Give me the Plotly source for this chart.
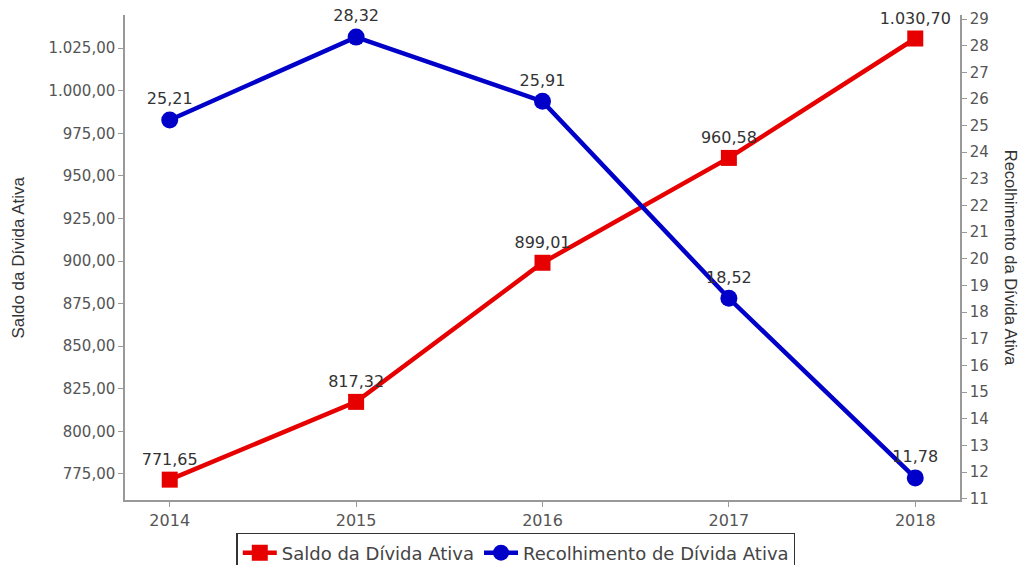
import plotly.graph_objects as go

years = [2014, 2015, 2016, 2017, 2018]
saldo = [771.65, 817.32, 899.01, 960.58, 1030.70]
recolhimento = [25.21, 28.32, 25.91, 18.52, 11.78]
left_ticks = [775, 800, 825, 850, 875, 900, 925, 950, 975, 1000, 1025]
right_ticks = list(range(11, 30))

FONT = "DejaVu Sans, Verdana, sans-serif"
TITLE_FONT = "Liberation Sans Narrow, Liberation Sans, Arial"

fig = go.Figure()
fig.add_trace(go.Scatter(
    x=years, y=saldo, name="Saldo da Dívida Ativa", mode="lines+markers+text",
    line=dict(color="#e60000", width=4.5),
    marker=dict(symbol="square", size=16, color="#e60000"),
    texttemplate="%{y:,.2f}", textposition="top center",
    textfont=dict(size=16, color="#333333", family=FONT),
    cliponaxis=False, yaxis="y"))
fig.add_trace(go.Scatter(
    x=years, y=recolhimento, name="Recolhimento de Dívida Ativa", mode="lines+markers+text",
    line=dict(color="#0000c8", width=4.5),
    marker=dict(symbol="circle", size=17, color="#0000c8"),
    texttemplate="%{y:,.2f}", textposition="top center",
    textfont=dict(size=16, color="#333333", family=FONT),
    cliponaxis=False, yaxis="y2"))

axis_common = dict(showgrid=False, zeroline=False, showline=True, linecolor="#999999",
                   linewidth=1.5, ticks="outside", ticklen=5, tickcolor="#999999")

fig.update_layout(
    width=1022, height=565,
    margin=dict(l=125, r=62, t=15, b=65, autoexpand=False),
    paper_bgcolor="white", plot_bgcolor="white",
    separators=",.",
    font=dict(family=FONT),
    xaxis=dict(range=[2013.76, 2018.24], tickvals=years,
               tickfont=dict(size=16, color="#555555", family=FONT), **axis_common),
    yaxis=dict(range=[759.7, 1044.5], tickvals=left_ticks, tickformat=",.2f",
               tickfont=dict(size=15, color="#555555", family=FONT), **axis_common),
    yaxis2=dict(range=[10.95, 29.15], tickvals=right_ticks, overlaying="y", side="right",
                tickfont=dict(size=15, color="#555555", family=FONT), **axis_common),
    showlegend=True,
    legend=dict(orientation="h", x=0.468, xanchor="center", y=-0.068, yanchor="top",
                bordercolor="#333333", borderwidth=1.5,
                font=dict(size=18, color="#444444", family=FONT),
                itemwidth=34),
    annotations=[
        dict(text="Saldo da Dívida Ativa", xref="paper", yref="paper", x=-0.128, y=0.5,
             textangle=-90, showarrow=False, xanchor="center", yanchor="middle",
             font=dict(size=17, color="#333333", family=TITLE_FONT)),
        dict(text="Recolhimento da Dívida Ativa", xref="paper", yref="paper", x=1.062, y=0.5,
             textangle=90, showarrow=False, xanchor="center", yanchor="middle",
             font=dict(size=16.5, color="#333333", family=TITLE_FONT)),
    ],
)

fig.write_html("out.html")
